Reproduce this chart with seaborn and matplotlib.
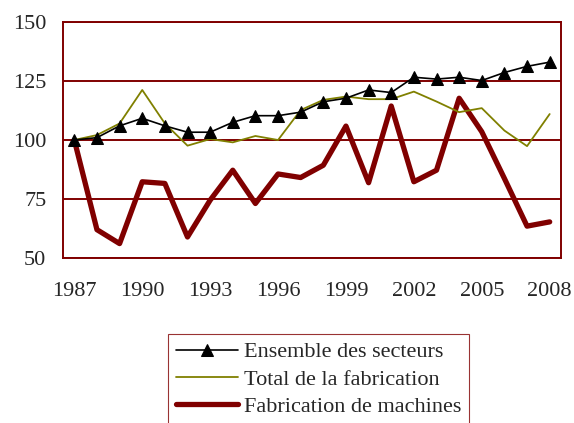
import numpy as np
import pandas as pd
import matplotlib
matplotlib.use("Agg")
import matplotlib.pyplot as plt
import seaborn as sns

years = list(range(1987, 2009))
ensemble = [100, 101, 106, 109.2, 106, 103.3, 103.3, 107.5, 110.3, 110.3, 111.8,
            116.2, 117.7, 121.2, 120.1, 126.6, 125.8, 126.6, 125.2, 128.6, 131.2, 133.0]
total_fab = [100, 102.1, 107, 121.2, 107, 97.6, 100.4, 99, 101.7, 100, 112.7,
             117, 118.4, 117.3, 117.3, 120.5, 116.3, 111.8, 113.5, 104, 97.4, 111]
machines = [100, 62, 56.1, 82.3, 81.6, 58.9, 74.5, 87.2, 73.1, 85.6, 84.1,
            89.3, 105.9, 81.9, 114.4, 82.3, 87.2, 117.7, 103.5, 83.7, 63.5, 65.3]
labels = ["Ensemble des secteurs", "Total de la fabrication", "Fabrication de machines"]

df = pd.DataFrame({"annee": years, labels[0]: ensemble,
                   labels[1]: total_fab, labels[2]: machines})

sns.set_style("white")
plt.rcParams['font.family'] = ['Liberation Serif', 'DejaVu Serif']

red = "#800000"
fig = plt.figure(figsize=(5.74, 4.23), dpi=100)
ax = fig.add_axes([63/574, 1-258/423, 498/574, 236/423])

sns.lineplot(data=df, x="annee", y=labels[2], ax=ax, color=red, lw=3.8,
             label=labels[2], zorder=2, solid_capstyle="round")
sns.lineplot(data=df, x="annee", y=labels[1], ax=ax, color="#808000", lw=1.3,
             label=labels[1], zorder=3)
sns.lineplot(data=df, x="annee", y=labels[0], ax=ax, color="black", lw=1.2,
             marker="^", markersize=8, markeredgecolor="black",
             label=labels[0], zorder=4)

ax.set_xlim(1986.5, 2008.5)
ax.set_ylim(50, 150)
ax.set_yticks([50, 75, 100, 125, 150])
ax.set_xticks(years[::3])
ax.set_xticks(np.arange(1986.5, 2009, 1), minor=True)
ax.tick_params(axis="x", which="major", length=0, pad=17, labelsize=16)
ax.tick_params(axis="x", which="minor", length=5, width=1.4, color=red, direction="out")
ax.tick_params(axis="y", length=5, width=1.4, color=red, direction="out", pad=7, labelsize=16)
ax.set_xlabel("")
ax.set_ylabel("")
ax.yaxis.grid(True, color=red, lw=1.4)
ax.set_axisbelow(True)
for s in ax.spines.values():
    s.set_color(red)
    s.set_linewidth(1.4)

handles, labs = ax.get_legend_handles_labels()
order = [2, 1, 0]
leg = ax.legend([handles[i] for i in order], [labs[i] for i in order],
                loc="upper left", bbox_to_anchor=(168/574, 1-334/423),
                bbox_transform=fig.transFigure, fontsize=16, frameon=True,
                fancybox=False, edgecolor=red, handlelength=2.8,
                handletextpad=0.25, labelspacing=0.3, borderpad=0.35,
                borderaxespad=0)
leg.get_frame().set_linewidth(0.8)

fig.savefig("out.png", dpi=100)
